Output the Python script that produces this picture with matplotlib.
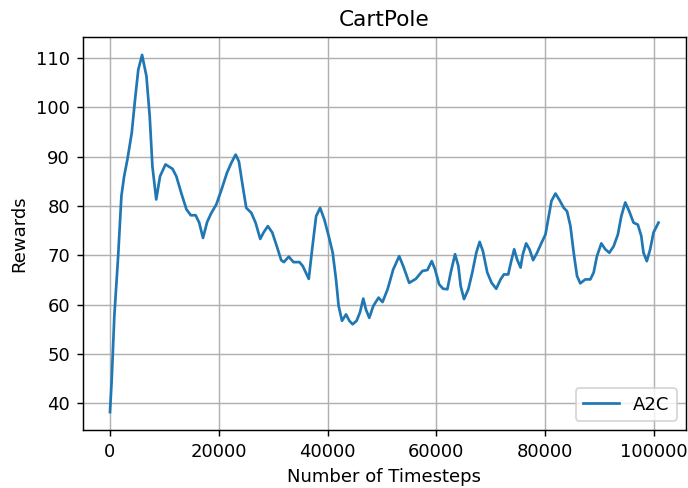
import matplotlib
matplotlib.use('Agg')
import matplotlib.pyplot as plt

timesteps = [0, 300, 800, 1500, 2100, 2600, 3200, 4000, 4600, 5200, 5900, 6700, 7300, 7800,
             8500, 9200, 10200, 11500, 12200, 13100, 14050, 14850, 15750, 16400, 17100, 17850,
             18600, 19550, 20500, 21500, 22300, 23100, 23700, 24400, 25050, 25970, 26760, 27620,
             28230, 29020, 29830, 30670, 31470, 31950, 32870, 33730, 34830, 35440, 36540, 37160,
             37890, 38630, 39410, 40200, 40940, 41550, 42030, 42650, 43390, 44000, 44600, 45330,
             45950, 46560, 47050, 47660, 48400, 49370, 50100, 51030, 52060, 53160, 53900, 55000,
             56220, 57430, 58350, 59150, 59760, 60500, 61230, 62020, 62640, 63430, 64040, 64470,
             65080, 65870, 66600, 67330, 67950, 68560, 69350, 70150, 71000, 71800, 72400, 73200,
             73820, 74300, 74850, 75470, 75890, 76500, 77120, 77780, 78510, 79320, 80050, 80540,
             81150, 81890, 82620, 83410, 84020, 84640, 85240, 85850, 86450, 87380, 88300, 88910,
             89510, 90320, 91050, 91790, 92580, 93360, 93990, 94720, 95450, 96240, 97030, 97660,
             98070, 98680, 99300, 99910, 100830]
rewards = [38.2, 44.3, 57.7, 69.8, 82, 86, 89.4, 94.8, 101.5, 107.6, 110.6, 106.3, 98.2, 88,
           81.3, 86, 88.4, 87.5, 86, 82.6, 79.3, 78.1, 78.1, 76.6, 73.5, 76.7,
           78.5, 80.3, 83.3, 86.7, 88.7, 90.4, 89, 84, 79.6, 78.6, 76.6, 73.3,
           74.6, 75.9, 74.6, 71.8, 69, 68.6, 69.7, 68.6, 68.6, 67.8, 65.2, 71.2,
           77.9, 79.6, 77.2, 73.9, 70.5, 65.1, 59.7, 56.7, 58, 56.7, 56, 56.7,
           58.4, 61.2, 59, 57.3, 59.7, 61.4, 60.5, 63.1, 67.1, 69.8, 67.8, 64.4,
           65.2, 66.8, 67, 68.8, 67.1, 64.1, 63.2, 63.1, 66.5, 70.2, 67.8, 63.7,
           61.1, 63.1, 66.5, 70.5, 72.7, 70.8, 66.5, 64.4, 63.2, 65.1, 66.1, 66.1,
           69.1, 71.2, 69.1, 67.5, 70.2, 72.4, 71.2, 69, 70.5, 72.5, 74.2, 77.2,
           81, 82.5, 81.2, 79.6, 78.9, 75.9, 70.5, 65.8, 64.3, 65.1, 65.1, 66.5,
           69.8, 72.4, 71.2, 70.5, 71.8, 74.2, 77.9, 80.7, 78.9, 76.6, 76.2, 73.9,
           70.5, 68.8, 71.2, 74.6, 76.6]


def graf():
    dpi = 130
    fig, ax = plt.subplots(figsize=(688 / dpi, 488 / dpi), dpi=dpi)
    fig.subplots_adjust(left=0.120, right=0.997, top=0.924, bottom=0.119)

    ax.plot(timesteps, rewards, label='A2C')

    ax.set_xlabel('Number of Timesteps')
    ax.set_ylabel('Rewards')
    ax.set_title('CartPole')
    ax.grid(True)
    ax.legend(loc='lower right')

    plt.savefig('out.png', dpi=dpi)


if __name__ == '__main__':
    graf()
